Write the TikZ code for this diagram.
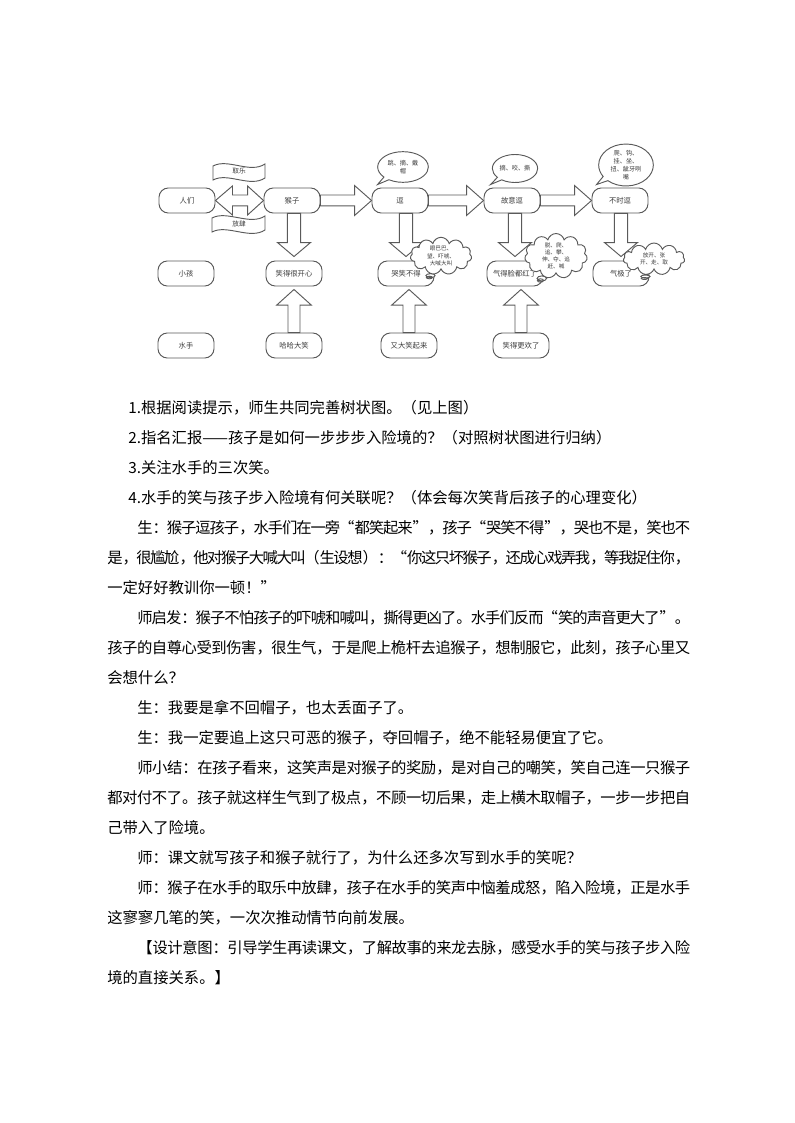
\documentclass[tikz,border=0pt]{standalone}
\usepackage{fontspec}
\setmainfont{Noto Sans CJK SC}
\usepackage{tikz}
\usetikzlibrary{calc}
\usetikzlibrary{shapes.callouts}
\usetikzlibrary{shapes.symbols}
\XeTeXlinebreaklocale "zh"
\XeTeXlinebreakskip=0pt plus 4pt minus 2pt
\definecolor{linegray}{HTML}{5A5A5A}
\definecolor{textgray}{HTML}{3C3C3C}
\newcommand{\fullline}[2]{\parbox{#1}{\parfillskip=0pt #2}}
\newcommand{\rightblock}[2]{\draw[blockarrow] let \p1=(#1.east), \p2=(#2.west) in (\x1,\y1+4.1pt) -- (\x2-12.75pt,\y1+4.1pt) -- (\x2-12.75pt,\y1+11.25pt) -- (\x2,\y1) -- (\x2-12.75pt,\y1-11.25pt) -- (\x2-12.75pt,\y1-4.1pt) -- (\x1,\y1-4.1pt) -- cycle;}
\newcommand{\downblock}[2]{\draw[blockarrow] let \p1=(#1.south), \p2=(#2.north) in (\x2-5pt,\y1) -- (\x2-5pt,\y2+13.5pt) -- (\x2-12.4pt,\y2+13.5pt) -- (\x2,\y2+3pt) -- (\x2+12.4pt,\y2+13.5pt) -- (\x2+5pt,\y2+13.5pt) -- (\x2+5pt,\y1) -- cycle;}
\newcommand{\upblock}[2]{\draw[blockarrow] let \p1=(#1.north), \p2=(#2.south) in (\x1-4.5pt,\y1) -- (\x1-4.5pt,\y2-14pt) -- (\x1-13pt,\y2-14pt) -- (\x1,\y2-2.25pt) -- (\x1+13pt,\y2-14pt) -- (\x1+4.5pt,\y2-14pt) -- (\x1+4.5pt,\y1) -- cycle;}

\begin{document}
\begin{tikzpicture}[x=0.75pt,y=-0.75pt,
	stage/.style={draw=linegray,fill=white,line width=0.7pt,rounded corners=7pt,minimum width=42pt,minimum height=18.75pt,inner sep=0pt,text=textgray,font=\fontsize{5.5pt}{6.5pt}\selectfont},
	blockarrow/.style={draw=linegray,fill=white,line width=0.7pt,line join=miter},
	bubble/.style={ellipse callout,draw=linegray,fill=white,line width=0.7pt,inner sep=0pt,align=center,text=textgray,font=\fontsize{4.6pt}{6pt}\selectfont},
	puff/.style={cloud callout,cloud puffs=11,cloud ignores aspect,draw=linegray,fill=white,line width=0.7pt,inner sep=0pt,align=center,text=textgray,font=\fontsize{4.2pt}{5.4pt}\selectfont},
	banner/.style={draw=linegray,fill=white,line width=0.7pt},
	bannertext/.style={inner sep=0pt,text=textgray,font=\fontsize{5pt}{6pt}\selectfont},
	bodytext/.style={anchor=west,inner sep=0pt,font=\fontsize{11.5pt}{14pt}\selectfont}]
	\useasboundingbox (0,0) rectangle (794,1123);
	\fill[white] (0,0) rectangle (794,1123);

	\node (people) [stage] at (187,200.5) {人们};
	\node (monkey) [stage] at (292,200.5) {猴子};
	\node (tease) [stage] at (400,200.5) {逗};
	\node (teasemore) [stage] at (512,200.5) {故意逗};
	\node (teaseoften) [stage] at (620,200.5) {不时逗};
	\node (boy) [stage] at (186,273.5) {小孩};
	\node (glad) [stage] at (294,273.5) {笑得很开心};
	\node (awkward) [stage] at (406,273.5) {哭笑不得};
	\node (flushed) [stage] at (515,273.5) {气得脸都红了};
	\node (furious) [stage] at (621,273.5) {气极了};
	\node (sailor) [stage] at (186,345.5) {水手};
	\node (haha) [stage] at (294,345.5) {哈哈大笑};
	\node (laughagain) [stage] at (409,345.5) {又大笑起来};
	\node (laughmore) [stage] at (521,345.5) {笑得更欢了};

	\draw[blockarrow] let \p1=(people.east), \p2=(monkey.west) in (\x1,\y1) -- (\x1+12.75pt,\y1+10.9pt) -- (\x1+12.75pt,\y1+4.1pt) -- (\x2-12pt,\y1+4.1pt) -- (\x2-12pt,\y1+10.9pt) -- (\x2,\y1) -- (\x2-12pt,\y1-10.9pt) -- (\x2-12pt,\y1-4.1pt) -- (\x1+12.75pt,\y1-4.1pt) -- (\x1+12.75pt,\y1-10.9pt) -- cycle;
	\rightblock{monkey}{tease}
	\rightblock{tease}{teasemore}
	\rightblock{teasemore}{teaseoften}
	\downblock{monkey}{glad}
	\downblock{tease}{awkward}
	\downblock{teasemore}{flushed}
	\downblock{teaseoften}{furious}
	\upblock{haha}{glad}
	\upblock{laughagain}{awkward}
	\upblock{laughmore}{flushed}

	\draw[banner] (213,166) .. controls (228,158) and (250,174) .. (265,164) -- (265,178) .. controls (250,188) and (228,172) .. (213,180) -- cycle;
	\node (fun) [bannertext] at (239,171.5) {取乐};
	\draw[banner] (212,218) .. controls (227,210) and (250,226) .. (265,216) -- (265,230) .. controls (250,240) and (227,224) .. (212,232) -- cycle;
	\node (wild) [bannertext] at (239,224) {放肆};

	\node (bubtease) [bubble,minimum width=38pt,minimum height=23pt,callout absolute pointer={($(tease.north west)+(6,-3)$)}] at (403,167) {跳、摘、戴\\帽};
	\node (bubteasemore) [bubble,minimum width=34pt,minimum height=21pt,callout absolute pointer={($(teasemore.north west)+(7,-3)$)}] at (515,168.5) {摘、咬、撕};
	\node (bubteaseoften) [bubble,minimum width=41pt,minimum height=28pt,callout absolute pointer={($(teaseoften.north west)+(5,-3)$)}] at (626,165) {爬、钩、\\挂、坐、\\扭、龇牙咧\\嘴};

	\node (puffawkward) [puff,minimum width=46pt,minimum height=28pt,callout absolute pointer={($(awkward.east)+(-5,4)$)}] at (441,256) {眼巴巴、\\望、吓唬、\\大喊大叫};
	\node (puffflushed) [puff,minimum width=47pt,minimum height=32pt,callout absolute pointer={($(flushed.east)+(-3,7)$)}] at (556,256) {脱、爬、\\追、攀、\\伸、夺、追\\赶、喊};
	\node (pufffurious) [puff,minimum width=46pt,minimum height=24pt,callout absolute pointer={($(furious.east)+(-5,5)$)}] at (654,259) {放开、张\\开、走、取};

	\node (l1) [bodytext] at (128,408) {1.根据阅读提示，师生共同完善树状图。（见上图）};
	\node (l2) [bodytext] at (128,437.5) {2.指名汇报——孩子是如何一步步步入险境的？（对照树状图进行归纳）};
	\node (l3) [bodytext] at (128,467.5) {3.关注水手的三次笑。};
	\node (l4) [bodytext] at (128,497.5) {4.水手的笑与孩子步入险境有何关联呢？（体会每次笑背后孩子的心理变化）};
	\node (l5) [bodytext] at (137,527.5) {\fullline{414.75pt}{生：猴子逗孩子，水手们在一旁“都笑起来”，孩子“哭笑不得”，哭也不是，笑也不}};
	\node (l6) [bodytext] at (107,557.5) {\fullline{437.25pt}{是，很尴尬，他对猴子大喊大叫（生设想）：“你这只坏猴子，还成心戏弄我，等我捉住你，}};
	\node (l7) [bodytext] at (107,587.5) {一定好好教训你一顿！”};
	\node (l8) [bodytext] at (137,617.5) {\fullline{414.75pt}{师启发：猴子不怕孩子的吓唬和喊叫，撕得更凶了。水手们反而“笑的声音更大了”。}};
	\node (l9) [bodytext] at (107,647.5) {\fullline{437.25pt}{孩子的自尊心受到伤害，很生气，于是爬上桅杆去追猴子，想制服它，此刻，孩子心里又}};
	\node (l10) [bodytext] at (107,677.5) {会想什么？};
	\node (l11) [bodytext] at (137,707.5) {生：我要是拿不回帽子，也太丢面子了。};
	\node (l12) [bodytext] at (137,737.5) {生：我一定要追上这只可恶的猴子，夺回帽子，绝不能轻易便宜了它。};
	\node (l13) [bodytext] at (137,767.5) {\fullline{414.75pt}{师小结：在孩子看来，这笑声是对猴子的奖励，是对自己的嘲笑，笑自己连一只猴子}};
	\node (l14) [bodytext] at (107,797.5) {\fullline{437.25pt}{都对付不了。孩子就这样生气到了极点，不顾一切后果，走上横木取帽子，一步一步把自}};
	\node (l15) [bodytext] at (107,827.5) {己带入了险境。};
	\node (l16) [bodytext] at (137,857.5) {师：课文就写孩子和猴子就行了，为什么还多次写到水手的笑呢？};
	\node (l17) [bodytext] at (137,887.5) {\fullline{414.75pt}{师：猴子在水手的取乐中放肆，孩子在水手的笑声中恼羞成怒，陷入险境，正是水手}};
	\node (l18) [bodytext] at (107,917.5) {这寥寥几笔的笑，一次次推动情节向前发展。};
	\node (l19) [bodytext] at (137,947.5) {\fullline{414.75pt}{【设计意图：引导学生再读课文，了解故事的来龙去脉，感受水手的笑与孩子步入险}};
	\node (l20) [bodytext] at (107,977.5) {境的直接关系。】};
\end{tikzpicture}
\end{document}
